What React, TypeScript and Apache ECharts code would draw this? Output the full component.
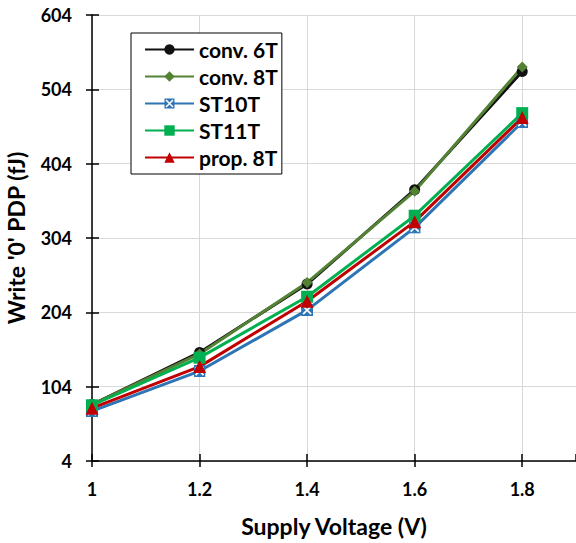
import React, { useEffect, useRef } from "react";
import * as echarts from "echarts";

const voltages = [1, 1.2, 1.4, 1.6, 1.8];
const conv6T = [80, 150, 242, 369, 528];
const conv8T = [80, 148, 244, 367, 534];
const st10T = [71, 125, 207, 318, 460];
const st11T = [79, 143, 225, 334, 472];
const prop8T = [75, 131, 219, 326, 466];
const seriesNames = ["conv. 6T", "conv. 8T", "ST10T", "ST11T", "prop. 8T"];
const Y_BASE = 4; // first y tick label value

const xSymbol =
  "image://data:image/svg+xml;utf8," +
  encodeURIComponent(
    '<svg xmlns="http://www.w3.org/2000/svg" width="12" height="12" viewBox="0 0 12 12"><rect x="0" y="0" width="12" height="12" fill="#2e75b6"/><path d="M2 2 L10 10 M10 2 L2 10" stroke="#ffffff" stroke-width="1.8"/></svg>'
  );

const FONT = "Lato, 'Open Sans', sans-serif";

export default function App() {
  const ref = useRef<HTMLDivElement>(null);
  useEffect(() => {
    if (!ref.current) return;
    const chart = echarts.init(ref.current, undefined, { renderer: "svg" });
    const mk = (vals: number[]) => vals.map((v, i) => [voltages[i], v - Y_BASE]);
    const defs = [
      { name: seriesNames[0], data: conv6T, color: "#111111", symbol: "circle", size: 11 },
      { name: seriesNames[1], data: conv8T, color: "#548235", symbol: "diamond", size: 11 },
      { name: seriesNames[2], data: st10T, color: "#2e75b6", symbol: xSymbol, size: 12 },
      { name: seriesNames[3], data: st11T, color: "#00b050", symbol: "rect", size: 12 },
      { name: seriesNames[4], data: prop8T, color: "#c00000", symbol: "triangle", size: 13 },
    ];
    const axisLineStyle = { color: "#000", width: 1.5 };
    chart.setOption({
      animation: false,
      backgroundColor: "#ffffff",
      grid: {
        left: 92,
        right: 0,
        top: 15,
        bottom: 82,
        containLabel: false,
        outerBoundsMode: "none",
      },
      legend: {
        show: true,
        orient: "vertical",
        left: 131,
        top: 33,
        padding: [6, 4, 6, 13],
        borderColor: "#000000",
        borderWidth: 1,
        backgroundColor: "#ffffff",
        itemWidth: 49,
        itemHeight: 13,
        itemGap: 6,
        data: seriesNames,
        textStyle: {
          fontFamily: FONT,
          fontWeight: "bold",
          fontSize: 21,
          color: "#000",
        },
      },
      xAxis: [
        {
          type: "value",
          min: 1,
          max: 1.9,
          interval: 0.2,
          axisLine: { show: true, onZero: false, lineStyle: axisLineStyle },
          axisTick: { show: true, length: 6, lineStyle: axisLineStyle },
          axisLabel: {
            showMaxLabel: false,
            margin: 19,
            fontFamily: FONT,
            fontWeight: "bold",
            fontSize: 18,
            color: "#000",
          },
          splitLine: { show: true, lineStyle: { color: "#d9d9d9", width: 1 } },
          name: "Supply Voltage (V)",
          nameLocation: "middle",
          nameGap: 53,
          nameTextStyle: { fontFamily: FONT, fontWeight: "bold", fontSize: 23, color: "#000" },
        },
        {
          type: "value",
          position: "bottom",
          min: 1,
          max: 1.9,
          interval: 0.2,
          axisLine: { show: false, onZero: false },
          axisTick: { show: true, inside: true, length: 7, lineStyle: axisLineStyle },
          axisLabel: { show: false },
          splitLine: { show: false },
        },
      ],
      yAxis: [
        {
          type: "value",
          min: 0,
          max: 600,
          interval: 100,
          axisLine: { show: true, onZero: false, lineStyle: axisLineStyle },
          axisTick: { show: true, length: 6, lineStyle: axisLineStyle },
          axisLabel: {
            formatter: (v: number) => String(v + Y_BASE),
            margin: 20,
            fontFamily: FONT,
            fontWeight: "bold",
            fontSize: 18,
            color: "#000",
          },
          splitLine: { show: true, lineStyle: { color: "#d9d9d9", width: 1 } },
          name: "Write '0' PDP (fJ)",
          nameLocation: "middle",
          nameGap: 65,
          nameRotate: 90,
          nameTextStyle: { fontFamily: FONT, fontWeight: "bold", fontSize: 23, color: "#000" },
        },
        {
          type: "value",
          position: "left",
          min: 0,
          max: 600,
          interval: 100,
          axisLine: { show: false, onZero: false },
          axisTick: { show: true, inside: true, length: 7, lineStyle: axisLineStyle },
          axisLabel: { show: false },
          splitLine: { show: false },
        },
      ],
      series: defs.map((d) => ({
        type: "line",
        name: d.name,
        xAxisIndex: 0,
        yAxisIndex: 0,
        data: mk(d.data),
        symbol: d.symbol,
        symbolSize: d.size,
        showSymbol: true,
        lineStyle: { color: d.color, width: 3 },
        itemStyle: { color: d.color, borderWidth: 0 },
        emphasis: { disabled: true },
      })),
    });
    return () => chart.dispose();
  }, []);
  return <div ref={ref} style={{ width: 576, height: 543, position: "absolute", left: 0, top: 0 }} />;
}
